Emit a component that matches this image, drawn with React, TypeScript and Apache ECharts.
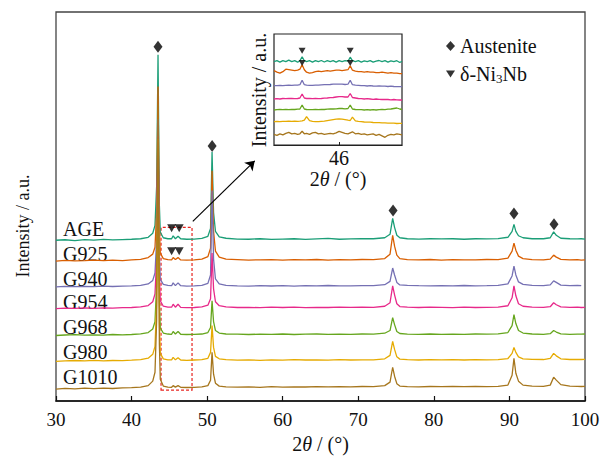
import React, { useEffect, useRef } from 'react';
import * as echarts from 'echarts';

const FONT = '"Liberation Serif", "Times New Roman", serif';

const samples = ['AGE', 'G925', 'G940', 'G954', 'G968', 'G980', 'G1010'];
const colors = ['#1b9e77', '#d95f02', '#7570b3', '#e7298a', '#66a61e', '#e6ab02', '#a6761d'];
// vertical stacking offsets of each pattern (a.u.)
const offsets = [162, 141, 115, 93, 66, 40, 12];

const twoTheta = [30, 31.2, 32.5, 33.8, 35, 36.3, 37.5, 38.8, 40, 41.2,
  42.2, 42.8, 43.1, 43.32, 43.5, 43.68, 43.8, 44.2, 44.8, 45.3,
  45.5, 45.8, 46.15, 46.5, 47.3, 48.3, 49.3, 50.1, 50.45, 50.65,
  50.85, 51.1, 51.6, 52.5, 54, 55.5, 57, 58.5, 60, 61.5,
  63, 64.5, 66, 67.5, 69, 70.5, 72, 73.5, 74.2, 74.55,
  74.8, 75.1, 75.5, 76.5, 78, 79.5, 81, 82.5, 84, 85.5,
  87, 88.5, 89.8, 90.35, 90.6, 90.85, 91.2, 91.8, 93, 94.5,
  95.4, 95.85, 96.2, 96.8, 98, 99, 99.5, 100];

const intAGE = [0, 0.5, -0.3, 0.6, 0.2, 0.8, 0.3, 0.7, 1, 1.5,
  3, 7, 15, 55, 187, 35, 8, 2.5, 1.5, 1.5,
  4.5, 1.5, 4, 1.5, 1, 1.2, 1.8, 4, 12, 89,
  28, 9, 3.5, 2, 1.2, 1, 1.5, 0.8, 1.2, 1.5,
  0.8, 1.3, 1.8, 1, 1.3, 1.5, 1.5, 2.5, 6, 22,
  13, 5, 2.5, 1.5, 1.2, 1.5, 1.3, 1.5, 1, 1.5,
  1.3, 1.6, 3, 9, 16, 9, 4.5, 2.5, 1.5, 1.5,
  2.5, 8.5, 5, 2, 1.5, 1.3, 1.5, 1.2];
const intG925 = [0, 0.8, 0.2, 0.5, 1, 0.4, 0.9, 0.5, 1.2, 1.8,
  3.5, 7, 14, 50, 176, 33, 8, 2.5, 1.5, 1.2,
  3.5, 1.5, 3.5, 1.2, 1, 1.3, 2, 4.5, 13, 91,
  30, 10, 4, 2, 1.5, 1, 1.3, 1.5, 1, 1.4,
  1.2, 1.6, 1, 1.5, 1.2, 1.6, 1.4, 2.5, 7, 26,
  15, 6, 2.5, 1.5, 1.3, 1.6, 1, 1.5, 1.3, 1.2,
  1.6, 1.4, 3, 10, 18, 11, 5, 2.5, 1.5, 1.2,
  2, 6, 4, 1.8, 1.3, 1.5, 1, 1.3];
const intG940 = [0, 0.5, 0.2, 0.6, 0.3, 0.8, 0.4, 0.7, 1, 1.6,
  3, 6.5, 14, 48, 169, 32, 7.5, 2.5, 1.5, 1.2,
  4, 1.3, 4, 1.2, 0.8, 1, 1.5, 3.5, 12, 97,
  28, 8, 3, 1.5, 1, 0.8, 1.2, 0.9, 1.3, 0.8,
  1.2, 1, 1.4, 1.1, 1, 1.3, 1.2, 2.2, 5.5, 19,
  12, 4.5, 2, 1.5, 1.2, 1, 1.3, 1.1, 1.4, 1,
  1.2, 1.5, 3, 11, 21, 12, 5, 2.5, 1.5, 1.2,
  2, 6, 4.5, 1.8, 1.2, 1.5, 1.2, null];
const intG954 = [0, 0.6, 0.3, 0.8, 0.4, 0.9, 0.5, 1, 1.2, 1.8,
  3.2, 7, 15, 50, 174, 33, 8, 2.5, 1.5, 1.5,
  4.5, 1.5, 4.5, 1.3, 1, 1.2, 1.8, 3.5, 10, 56,
  20, 7, 3, 1.8, 1.2, 1.4, 1, 1.5, 1.2, 1.6,
  1, 1.4, 1.2, 1.6, 1.3, 1.5, 1.4, 2.5, 6, 23,
  14, 5, 2.2, 1.5, 1.2, 1.6, 1.3, 1, 1.5, 1.2,
  1.4, 1.6, 3, 11, 23, 13, 5, 2.5, 1.5, 1.3,
  2, 6, 4, 1.8, 1.3, 1.5, 1.2, 1.4];
const intG968 = [0, 0.5, 0.8, 0.3, 0.7, 0.4, 1, 0.6, 1, 1.6,
  3, 6.5, 14, 52, 188, 34, 7.5, 2.5, 1.5, 1.2,
  4, 1.5, 4, 1.2, 1, 1.2, 1.5, 3, 8, 35,
  14, 5, 2.5, 1.5, 1.3, 1, 1.4, 1.2, 1.5, 1,
  1.3, 1.5, 1.1, 1.4, 1.2, 1.5, 1.3, 2.3, 5, 18,
  11, 4, 2, 1.4, 1.2, 1.5, 1.1, 1.4, 1.2, 1.5,
  1.3, 1.6, 3, 10, 21, 12, 5, 2.5, 1.5, 1.2,
  1.8, 5, 3.5, 1.6, 1.2, 1.4, 1.3, 1.5];
const intG980 = [0, 0.4, 0.8, 0.5, 0.9, 0.4, 0.8, 0.6, 1.1, 1.7,
  3.2, 7, 15, 60, 224, 38, 8, 2.5, 1.5, 1.5,
  4, 1.5, 3.5, 1.3, 1, 1.3, 1.6, 3, 9, 36,
  14, 5, 2.5, 1.6, 1.2, 1.5, 1, 1.4, 1.2, 1.6,
  1.3, 1.5, 1.2, 1.6, 1.3, 1.5, 1.5, 2.5, 6, 20,
  12, 4.5, 2.2, 1.6, 1.3, 1.6, 1.4, 1.6, 1.3, 1.7,
  1.5, 1.7, 2.8, 8, 14, 9, 4.5, 2.5, 2, 1.8,
  3, 8, 5.5, 2.5, 1.8, 2, 1.8, 2];
const intG1010 = [0, 0.7, 0.3, 0.9, 0.5, 1, 0.6, 1.2, 1.4, 2,
  3.5, 8, 17, 70, 287, 45, 10, 3, 2, 1.8,
  3.5, 2, 3.5, 1.8, 1.6, 1.8, 2.2, 3.5, 9, 37,
  15, 6, 3, 2.2, 2, 2.2, 1.8, 2.4, 2, 2.3,
  2.1, 2.5, 2.2, 2.4, 2.2, 2.6, 2.4, 3.5, 7, 22,
  13, 5.5, 3, 2.5, 2.3, 2.6, 2.4, 2.7, 2.5, 2.6,
  2.5, 2.8, 4, 14, 31, 16, 8, 4, 3, 2.8,
  4, 12, 9, 4.5, 3, 2.8, 2.6, 2.7];
const mainIntensities = [intAGE, intG925, intG940, intG954, intG968, intG980, intG1010];

// inset (zoomed 45.1-46.9 deg)
const insetTheta = [45.12, 45.16, 45.2, 45.24, 45.28, 45.32, 45.36, 45.4, 45.44, 45.47,
  45.5, 45.53, 45.56, 45.6, 45.64, 45.68, 45.72, 45.76, 45.8, 45.84,
  45.88, 45.92, 45.96, 46.0, 46.04, 46.08, 46.12, 46.15, 46.18, 46.22,
  46.26, 46.3, 46.34, 46.38, 46.42, 46.46, 46.5, 46.54, 46.58, 46.62,
  46.66, 46.7, 46.74, 46.78, 46.82, 46.85];
const insetOffsets = [83.3, 74.3, 59.3, 46, 35, 23.3, 10.7];
const insAGE = [0, 1, -0.5, 1, 0, 1.5, 0, 1, -0.5, 1,
  5, 1, 0, 1, -0.5, 1, 0, 1.2, -0.3, 1,
  0, 1, -0.5, 1, 0, 1, 0.5, 4.5, 1, 0,
  1, -0.5, 0.8, 0, 1, -0.5, 0.5, 1.2, 0, 1,
  -0.5, 0.8, 0, 1, -0.8, 0.5];
const insG925 = [0, -1.5, -2.5, -1, 1.5, 1, 0.5, 0, 0.5, 1.5,
  6, 1, -1.5, -2.5, -2, -1, -0.5, -1, -0.5, 0,
  -0.5, 0, 0.5, 0.5, 0, 0.5, 1, 5, 0.5, -0.5,
  -1, -1, -1.5, -1, -1.5, -1.5, -2, -2, -1.5, -2,
  -2.5, -2, -2.5, -2.5, -3, -3];
const insG940 = [0, 0, 0.3, 0, 0.3, 0.5, 0.3, 0.5, 0.5, 1,
  5.5, 1, 0.5, 0.3, 0.3, 0.5, 0.5, 0.8, 1, 1,
  1.2, 1.5, 1.5, 1.5, 1.5, 1.2, 1.5, 5.5, 1, 0.5,
  0.3, 0, 0, -0.3, 0, -0.3, -0.5, -0.3, -0.5, -0.5,
  -0.8, -0.5, -0.8, -1, -1, -1];
const insG954 = [0, 0.3, 0, 0.5, 0.3, 0.5, 0.5, 0.3, 0.5, 1,
  5, 1, 0.5, 0.5, 0.3, 0.5, 0.3, 0.5, 0.8, 1,
  1.3, 1.5, 2, 2.3, 2.3, 2, 2, 5.5, 1.5, 1,
  0.5, 0.3, 0, 0.3, 0, -0.3, 0, -0.3, -0.5, -0.3,
  -0.5, -0.8, -0.5, -0.8, -1, -1];
const insG968 = [0, 0.3, 0.5, 0.3, 0.5, 0.3, 0.5, 0.5, 0.8, 1,
  5, 1, 0.5, 0.3, 0.3, 0.5, 0.3, 0.5, 0.5, 0.8,
  1, 1, 1.2, 1.5, 1.5, 1.2, 1.5, 5, 1, 0.5,
  0.3, 0.3, 0, 0.3, 0, 0.3, 0, 0.3, 0.5, 0.3,
  0.8, 1, 1.5, 2, 1, 0.5];
const insG980 = [0, 0.3, 0, 0.3, 0.3, 0.5, 0.3, 0.5, 0.3, 0.5,
  0.8, 1.5, 5, 1, 0.3, 0, 0, 0.3, 0.5, 1,
  1.5, 2, 2.5, 2.7, 2.5, 2, 1.5, 1.2, 4.5, 0.8,
  0.3, 0, -0.3, -0.5, -0.5, -0.8, -1, -1, -1.2, -1.2,
  -1.5, -1.5, -1.5, -1.8, -1.7, -1.7];
const insG1010 = [0, -1, 0.5, -0.5, 1, 2, 0.5, 1, 0, 0.5,
  3, 0.5, 1, 0, 1.5, 2, 0.5, 1, 0, 0.5,
  1, 0.5, 1.5, 3, 2, 1, 0.5, 1.5, 2.5, 0.5,
  1, 0, 0.5, -0.5, 0, 0.5, -1, 0, -1.5, -3,
  -1, 0, -0.5, 0.5, 0, -0.5];
const insetIntensities = [insAGE, insG925, insG940, insG954, insG968, insG980, insG1010];

// phase markers (2θ, height in a.u.)
const austeniteMarks = [[43.5, 357], [50.66, 257], [74.6, 192], [90.6, 189], [95.9, 178]];
const deltaMarks = [[45.3, 174], [46.3, 174], [45.3, 151], [46.3, 151]];
const insetDeltaMarks = [[45.5, 94.3], [46.15, 94.3], [45.5, 82], [46.15, 82]];
const zoomBox = [[43.9, 11], [48, 175]];
const zoomArrow = [[48.1, 181], [56.3, 242]];

const xTicks = [30, 40, 50, 60, 70, 80, 90, 100];
const labelY = [229, 254, 279, 302, 327, 352, 377];

export default function App() {
  const ref = useRef<HTMLDivElement>(null);
  useEffect(() => {
    if (!ref.current) return;
    const chart = echarts.init(ref.current, null, { renderer: 'svg' });
    const txt = '#111';
    const series: any[] = [];
    samples.forEach((name, k) => {
      const data = twoTheta
        .map((x, i) => (mainIntensities[k][i] == null ? null : [x, (mainIntensities[k][i] as number) + offsets[k]]))
        .filter((d) => d !== null);
      const s: any = {
        type: 'line', name, xAxisIndex: 0, yAxisIndex: 0, data,
        showSymbol: false, symbol: 'none', silent: true,
        lineStyle: { color: colors[k], width: 1.3 }, itemStyle: { color: colors[k] },
      };
      if (k === samples.length - 1) {
        s.markArea = {
          silent: true,
          itemStyle: { color: 'rgba(0,0,0,0)', borderColor: '#e8231f', borderWidth: 1.2, borderType: [3, 2] },
          data: [[{ coord: zoomBox[0] }, { coord: zoomBox[1] }]],
        };
        s.markLine = {
          silent: true, symbol: ['none', 'arrow'], symbolSize: 9,
          lineStyle: { color: '#000', width: 1.2, type: 'solid' }, label: { show: false },
          data: [[{ coord: zoomArrow[0] }, { coord: zoomArrow[1] }]],
        };
      }
      series.push(s);
    });
    samples.forEach((name, k) => {
      series.push({
        type: 'line', name: name + '-inset', xAxisIndex: 1, yAxisIndex: 1,
        data: insetTheta.map((x, i) => [x, insetIntensities[k][i] + insetOffsets[k]]),
        showSymbol: false, symbol: 'none', silent: true,
        lineStyle: { color: colors[k], width: 1.3 },
      });
    });
    series.push({
      type: 'scatter', name: 'Austenite', xAxisIndex: 0, yAxisIndex: 0, data: austeniteMarks,
      symbol: 'diamond', symbolSize: [9, 12], itemStyle: { color: '#000' }, z: 5,
    });
    series.push({
      type: 'scatter', name: 'δ-Ni3Nb', xAxisIndex: 0, yAxisIndex: 0, data: deltaMarks,
      symbol: 'triangle', symbolRotate: 180, symbolSize: [9, 8], itemStyle: { color: '#000' }, z: 5,
    });
    series.push({
      type: 'scatter', name: 'δ-Ni3Nb', xAxisIndex: 1, yAxisIndex: 1, data: insetDeltaMarks,
      symbol: 'triangle', symbolRotate: 180, symbolSize: [7, 6], itemStyle: { color: '#000' }, z: 5,
    });

    const nameRich = {
      a: { fontFamily: FONT, fontSize: 20, color: txt },
      i: { fontFamily: FONT, fontSize: 20, fontStyle: 'italic', color: txt },
    };

    chart.setOption({
      animation: false,
      backgroundColor: '#fff',
      textStyle: { fontFamily: FONT },
      grid: [
        { left: 56, top: 12, width: 529, height: 392, show: true, borderColor: '#444', borderWidth: 1.3, backgroundColor: 'transparent' },
        { left: 274, top: 34, width: 128, height: 111, show: true, borderColor: '#222', borderWidth: 1.2, backgroundColor: '#fff' },
      ],
      xAxis: [
        {
          gridIndex: 0, type: 'value', min: xTicks[0], max: xTicks[xTicks.length - 1], interval: 10,
          axisLine: { show: true, lineStyle: { color: '#111', width: 1.6 } },
          axisTick: { inside: true, length: 5, lineStyle: { color: '#111', width: 1.2 } },
          axisLabel: { fontFamily: FONT, fontSize: 19, color: txt, margin: 9 },
          splitLine: { show: false },
          name: '{a|2}{i|θ}{a| / (°)}', nameLocation: 'middle', nameGap: 33,
          nameTextStyle: { rich: nameRich },
        },
        {
          gridIndex: 1, type: 'value', min: insetTheta[0], max: insetTheta[insetTheta.length - 1],
          axisLine: { show: true, lineStyle: { color: '#222', width: 1.2 } },
          axisTick: { inside: true, length: 3, customValues: [46], lineStyle: { color: '#222' } },
          axisLabel: { fontFamily: FONT, fontSize: 20, color: txt, margin: 3, customValues: [46] },
          splitLine: { show: false },
          name: '{a|2}{i|θ}{a| / (°)}', nameLocation: 'middle', nameGap: 19,
          nameTextStyle: { rich: nameRich },
        },
      ],
      yAxis: [
        { gridIndex: 0, type: 'value', min: 0, max: 392, axisLine: { show: false }, axisTick: { show: false }, axisLabel: { show: false }, splitLine: { show: false } },
        { gridIndex: 1, type: 'value', min: 0, max: 111, axisLine: { show: false }, axisTick: { show: false }, axisLabel: { show: false }, splitLine: { show: false } },
      ],
      legend: {
        orient: 'vertical', left: 441, top: 31, itemGap: 8, itemWidth: 9, itemHeight: 10,
        selectedMode: false,
        data: [
          { name: 'Austenite', icon: 'diamond' },
          { name: 'δ-Ni3Nb', icon: 'path://M0,0L10,0L5,8Z' },
        ],
        formatter: (n: string) => (n === 'δ-Ni3Nb' ? '{n|δ-Ni}{s|3}{n|Nb}' : '{n|' + n + '}'),
        textStyle: {
          color: txt, fontFamily: FONT, fontSize: 20,
          rich: {
            n: { fontFamily: FONT, fontSize: 20, color: txt, lineHeight: 22, padding: [0, 0, 0, 0] },
            s: { fontFamily: FONT, fontSize: 13, color: txt, verticalAlign: 'bottom', lineHeight: 14 },
          },
        },
      },
      graphic: [
        ...samples.map((s, k) => ({
          type: 'text', x: 63, y: labelY[k], silent: true,
          style: { text: s, fontFamily: FONT, fontSize: 20, fill: txt, align: 'left', verticalAlign: 'middle' },
        })),
        {
          type: 'text', x: 23, y: 226, rotation: Math.PI / 2, silent: true,
          style: { text: 'Intensity / a.u.', fontFamily: FONT, fontSize: 18, fill: txt, align: 'center', verticalAlign: 'middle' },
        },
        {
          type: 'text', x: 259, y: 90, rotation: Math.PI / 2, silent: true,
          style: { text: 'Intensity / a.u.', fontFamily: FONT, fontSize: 20, fill: txt, align: 'center', verticalAlign: 'middle' },
        },
      ],
      series,
    });
    return () => chart.dispose();
  }, []);
  return <div ref={ref} style={{ position: 'fixed', left: 0, top: 0, width: 613, height: 459, background: '#fff' }} />;
}
